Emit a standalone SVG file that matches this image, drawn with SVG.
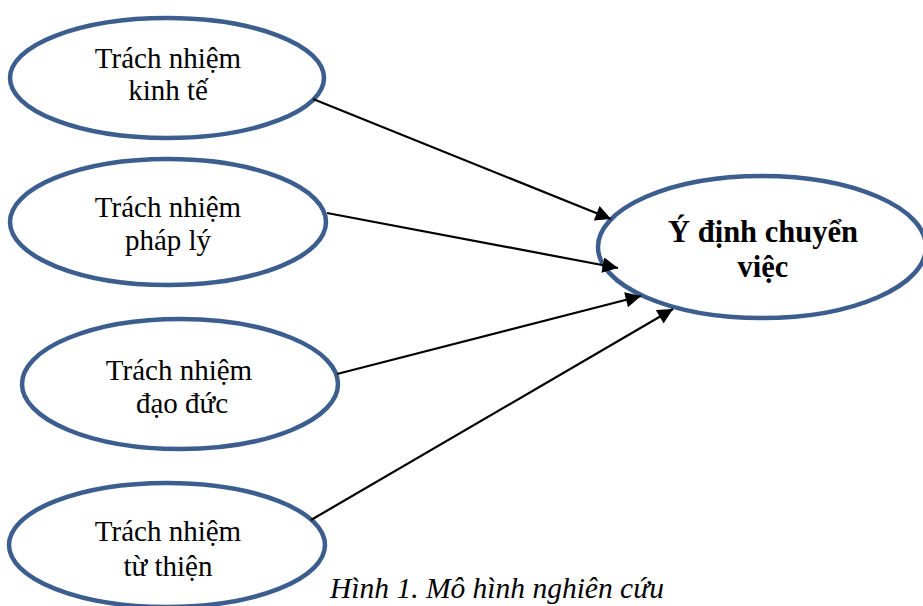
<svg xmlns="http://www.w3.org/2000/svg" width="923" height="606" viewBox="0 0 923 606">
<style>
.node ellipse{fill:#fff;stroke:#3b5e8e;stroke-width:4.5}
.t{font-family:"Liberation Serif","Times New Roman",serif;font-size:29px;fill:#000;text-anchor:middle}
.b{font-weight:bold;font-size:30.5px}
.edges line{stroke:#000;stroke-width:2.2}
.cap{font-family:"Liberation Serif","Times New Roman",serif;font-size:29.5px;font-style:italic;fill:#000}
</style>
<defs>
<marker id="ah" viewBox="0 0 10 10" refX="10" refY="5" markerWidth="9" markerHeight="7" markerUnits="strokeWidth" orient="auto">
<path d="M0,0 L10,5 L0,10 z" fill="#000"/>
</marker>
</defs>
<rect width="923" height="606" fill="#fff"/>
<g id="n1" class="node">
<ellipse cx="167" cy="78" rx="157" ry="60"/>
<text class="t" x="168" y="68">Trách nhiệm</text>
<text class="t" x="168" y="100">kinh tế</text>
</g>
<g id="n2" class="node">
<ellipse cx="168" cy="222" rx="158" ry="63"/>
<text class="t" x="168" y="217">Trách nhiệm</text>
<text class="t" x="168" y="250">pháp lý</text>
</g>
<g id="n3" class="node">
<ellipse cx="180" cy="384" rx="158" ry="65"/>
<text class="t" x="179" y="380">Trách nhiệm</text>
<text class="t" x="182" y="413">đạo đức</text>
</g>
<g id="n4" class="node">
<ellipse cx="167" cy="545" rx="158" ry="62"/>
<text class="t" x="168" y="541">Trách nhiệm</text>
<text class="t" x="168" y="576">từ thiện</text>
</g>
<g id="n5" class="node">
<ellipse cx="762" cy="247" rx="164" ry="71"/>
<text class="t b" x="763" y="242">Ý định chuyển</text>
<text class="t b" x="763" y="277">việc</text>
</g>
<g class="edges">
<line x1="313" y1="99" x2="611" y2="219" marker-end="url(#ah)"/>
<line x1="327" y1="213" x2="618" y2="268" marker-end="url(#ah)"/>
<line x1="337" y1="374" x2="641" y2="296" marker-end="url(#ah)"/>
<line x1="311" y1="520" x2="673" y2="309" marker-end="url(#ah)"/>
</g>
<text class="cap" x="330" y="598">Hình 1. Mô hình nghiên cứu</text>
</svg>
